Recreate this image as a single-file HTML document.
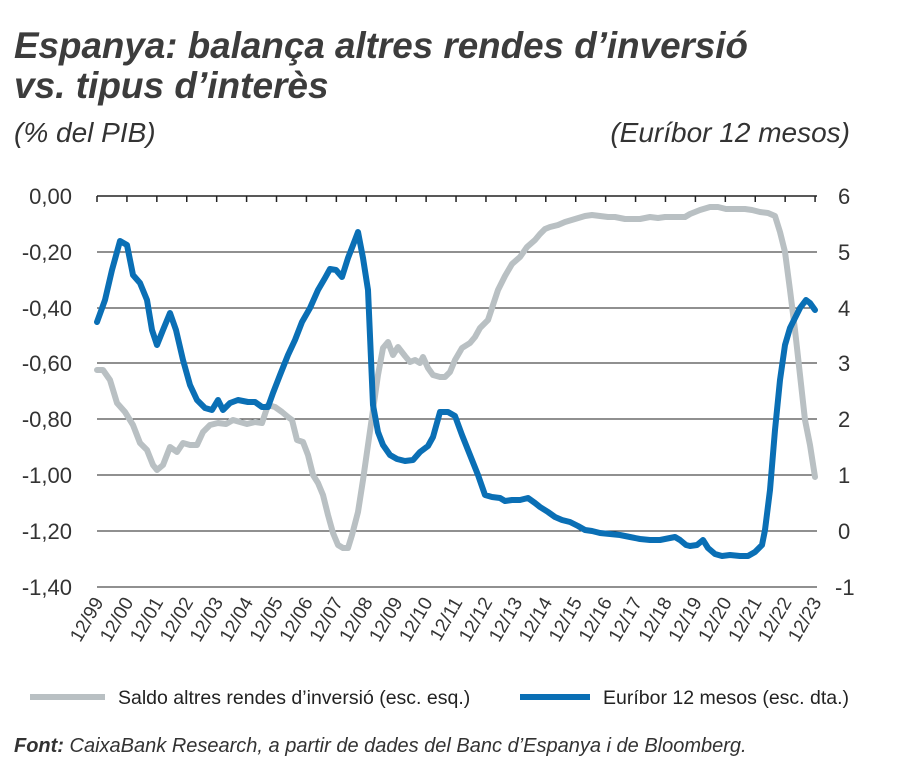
<!DOCTYPE html>
<html><head><meta charset="utf-8"><style>
body{margin:0;background:#fff;}
svg{display:block;font-family:"Liberation Sans",sans-serif;}
</style></head><body>
<svg width="900" height="776" viewBox="0 0 900 776">
<text x="14" y="58" font-size="37" font-weight="bold" font-style="italic" fill="#3c3c3c" textLength="734" lengthAdjust="spacingAndGlyphs">Espanya: balança altres rendes d’inversió</text>
<text x="14" y="98" font-size="37" font-weight="bold" font-style="italic" fill="#3c3c3c">vs. tipus d’interès</text>
<text x="14" y="142" font-size="28" font-style="italic" fill="#333">(% del PIB)</text>
<text x="850" y="142" font-size="28" font-style="italic" fill="#333" text-anchor="end">(Euríbor 12 mesos)</text>
<g stroke="#222" stroke-width="1">
<line x1="97" y1="196" x2="817" y2="196" stroke-width="1.5"/>
<line x1="97" y1="252" x2="817" y2="252"/><line x1="97" y1="308" x2="817" y2="308"/>
<line x1="97" y1="363" x2="817" y2="363"/><line x1="97" y1="419" x2="817" y2="419"/>
<line x1="97" y1="475" x2="817" y2="475"/><line x1="97" y1="531" x2="817" y2="531"/>
<line x1="97" y1="587" x2="817" y2="587"/>
</g>
<g stroke="#222" stroke-width="1.5" id="t"></g>
<g font-size="22" fill="#333" text-anchor="end">
<text x="72" y="204">0,00</text><text x="72" y="260">-0,20</text><text x="72" y="316">-0,40</text><text x="72" y="371">-0,60</text><text x="72" y="427">-0,80</text><text x="72" y="483">-1,00</text><text x="72" y="539">-1,20</text><text x="72" y="595">-1,40</text>
</g>
<g font-size="22" fill="#333">
<text x="838" y="204">6</text><text x="838" y="260">5</text><text x="838" y="316">4</text><text x="838" y="371">3</text><text x="838" y="427">2</text><text x="838" y="483">1</text><text x="838" y="539">0</text><text x="835" y="595">-1</text>
</g>
<g id="xl" font-size="19" fill="#333"></g>
<polyline fill="none" stroke="#b9c0c3" stroke-width="6" stroke-linejoin="round" stroke-linecap="round" points="97,370 103,370 110,380 117,403 125,412 133,425 140,443 147,450 153,465 157,470 163,465 170,447 177,452 183,443 190,445 197,445 203,432 210,425 218,423 226,424 233,420 240,422 247,424 255,422 262,423 268,405 275,407 282,412 288,417 292,420 297,440 303,442 308,455 313,475 318,483 323,495 328,515 333,533 338,545 343,548 348,548 352,535 358,512 363,480 368,445 373,410 378,375 383,348 388,342 393,355 398,347 405,356 410,362 415,360 420,363 423,357 428,368 433,375 440,377 445,377 450,372 455,360 462,348 470,343 475,337 480,328 488,320 493,305 498,290 505,276 512,264 520,257 527,247 535,240 540,234 545,229 550,227 558,225 565,222 575,219 585,216 592,215 600,216 608,217 615,217 625,219 633,219 640,219 650,217 658,218 665,217 675,217 685,217 690,214 700,210 710,207 718,207 726,209 735,209 745,209 752,210 760,212 768,213 775,216 780,232 785,252 790,290 795,330 800,375 805,420 810,445 815,477"/>
<polyline fill="none" stroke="#0a6fb5" stroke-width="6" stroke-linejoin="round" stroke-linecap="round" points="97,322 105,300 112,270 120,241 127,245 133,275 140,283 147,300 152,330 157,345 163,330 170,313 176,330 183,360 190,385 197,400 205,408 212,410 218,400 223,410 230,403 238,400 248,402 255,402 262,407 268,407 273,393 280,375 288,355 295,340 302,322 310,308 318,290 325,278 330,269 336,270 342,277 348,258 355,240 358,232 363,258 368,290 373,405 378,432 383,445 390,455 397,459 405,461 413,460 420,452 428,446 433,437 440,412 448,412 455,416 462,435 470,455 478,475 485,495 492,497 500,498 505,501 512,500 520,500 528,498 535,503 540,507 548,512 555,517 562,520 570,522 578,526 585,530 592,531 600,533 610,534 620,535 630,537 640,539 650,540 660,540 670,538 675,537 680,540 686,545 690,546 697,545 703,540 708,548 715,554 722,556 730,555 740,556 748,556 755,552 762,545 765,530 770,490 775,430 780,380 785,345 790,328 795,318 800,308 806,300 810,303 815,310"/>
<line x1="30" y1="697" x2="105" y2="697" stroke="#b9c0c3" stroke-width="6"/>
<text x="118" y="704" font-size="19.5" fill="#222">Saldo altres rendes d’inversió (esc. esq.)</text>
<line x1="520" y1="697" x2="590" y2="697" stroke="#0a6fb5" stroke-width="6"/>
<text x="603" y="704" font-size="19.5" fill="#222">Euríbor 12 mesos (esc. dta.)</text>
<text x="14" y="752" font-size="20" font-style="italic" fill="#333"><tspan font-weight="bold">Font:</tspan> CaixaBank Research, a partir de dades del Banc d’Espanya i de Bloomberg.</text>
<script>
var t=document.getElementById('t'),xl=document.getElementById('xl'),ns="http://www.w3.org/2000/svg";
for(var i=0;i<=24;i++){var x=97+i*29.92;
var l=document.createElementNS(ns,'line');l.setAttribute('x1',x);l.setAttribute('x2',x);l.setAttribute('y1',196);l.setAttribute('y2',202);t.appendChild(l);
var yy=(99+i)%100;var s='12/'+(yy<10?'0':'')+yy;
var tx=document.createElementNS(ns,'text');tx.setAttribute('x',0);tx.setAttribute('y',0);tx.setAttribute('text-anchor','end');
tx.setAttribute('transform','translate('+(x+7)+',602) rotate(-60)');tx.textContent=s;xl.appendChild(tx);}
</script>
</svg>
</body></html>
